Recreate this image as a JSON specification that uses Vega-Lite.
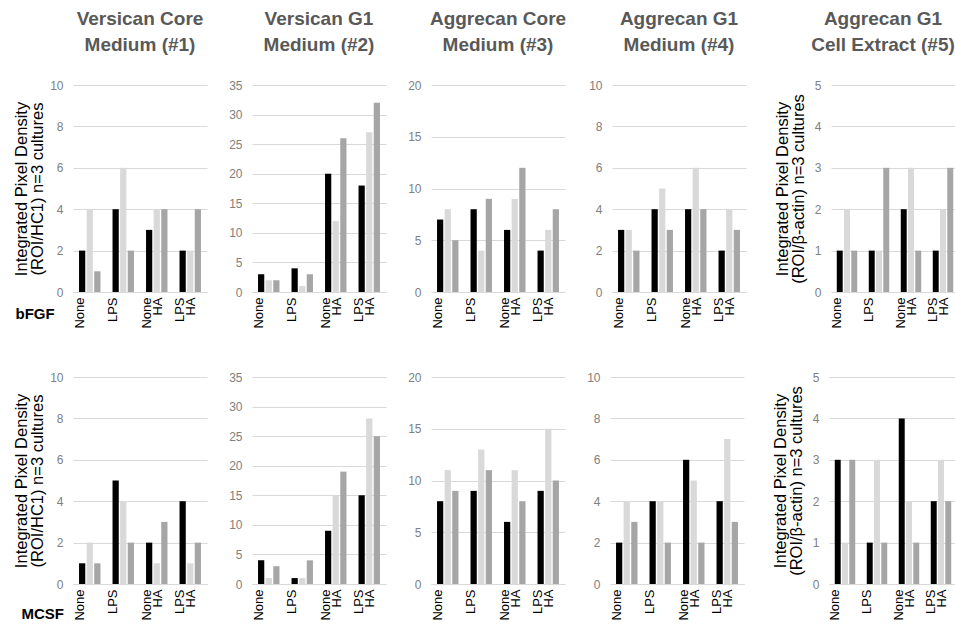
{
  "$schema": "https://vega.github.io/schema/vega-lite/v6.json",
  "padding": {"left": 13, "top": 10, "right": 0, "bottom": 0},
  "background": "#ffffff",
  "data": {"values": [
    {"k":"b1","g":"None","r":"1","v":2},{"k":"b1","g":"None","r":"2","v":4},{"k":"b1","g":"None","r":"3","v":1},
    {"k":"b1","g":"LPS","r":"1","v":4},{"k":"b1","g":"LPS","r":"2","v":6},{"k":"b1","g":"LPS","r":"3","v":2},
    {"k":"b1","g":"None HA","r":"1","v":3},{"k":"b1","g":"None HA","r":"2","v":4},{"k":"b1","g":"None HA","r":"3","v":4},
    {"k":"b1","g":"LPS HA","r":"1","v":2},{"k":"b1","g":"LPS HA","r":"2","v":2},{"k":"b1","g":"LPS HA","r":"3","v":4},
    {"k":"b2","g":"None","r":"1","v":3},{"k":"b2","g":"None","r":"2","v":2},{"k":"b2","g":"None","r":"3","v":2},
    {"k":"b2","g":"LPS","r":"1","v":4},{"k":"b2","g":"LPS","r":"2","v":1},{"k":"b2","g":"LPS","r":"3","v":3},
    {"k":"b2","g":"None HA","r":"1","v":20},{"k":"b2","g":"None HA","r":"2","v":12},{"k":"b2","g":"None HA","r":"3","v":26},
    {"k":"b2","g":"LPS HA","r":"1","v":18},{"k":"b2","g":"LPS HA","r":"2","v":27},{"k":"b2","g":"LPS HA","r":"3","v":32},
    {"k":"b3","g":"None","r":"1","v":7},{"k":"b3","g":"None","r":"2","v":8},{"k":"b3","g":"None","r":"3","v":5},
    {"k":"b3","g":"LPS","r":"1","v":8},{"k":"b3","g":"LPS","r":"2","v":4},{"k":"b3","g":"LPS","r":"3","v":9},
    {"k":"b3","g":"None HA","r":"1","v":6},{"k":"b3","g":"None HA","r":"2","v":9},{"k":"b3","g":"None HA","r":"3","v":12},
    {"k":"b3","g":"LPS HA","r":"1","v":4},{"k":"b3","g":"LPS HA","r":"2","v":6},{"k":"b3","g":"LPS HA","r":"3","v":8},
    {"k":"b4","g":"None","r":"1","v":3},{"k":"b4","g":"None","r":"2","v":3},{"k":"b4","g":"None","r":"3","v":2},
    {"k":"b4","g":"LPS","r":"1","v":4},{"k":"b4","g":"LPS","r":"2","v":5},{"k":"b4","g":"LPS","r":"3","v":3},
    {"k":"b4","g":"None HA","r":"1","v":4},{"k":"b4","g":"None HA","r":"2","v":6},{"k":"b4","g":"None HA","r":"3","v":4},
    {"k":"b4","g":"LPS HA","r":"1","v":2},{"k":"b4","g":"LPS HA","r":"2","v":4},{"k":"b4","g":"LPS HA","r":"3","v":3},
    {"k":"b5","g":"None","r":"1","v":1},{"k":"b5","g":"None","r":"2","v":2},{"k":"b5","g":"None","r":"3","v":1},
    {"k":"b5","g":"LPS","r":"1","v":1},{"k":"b5","g":"LPS","r":"2","v":1},{"k":"b5","g":"LPS","r":"3","v":3},
    {"k":"b5","g":"None HA","r":"1","v":2},{"k":"b5","g":"None HA","r":"2","v":3},{"k":"b5","g":"None HA","r":"3","v":1},
    {"k":"b5","g":"LPS HA","r":"1","v":1},{"k":"b5","g":"LPS HA","r":"2","v":2},{"k":"b5","g":"LPS HA","r":"3","v":3},
    {"k":"m1","g":"None","r":"1","v":1},{"k":"m1","g":"None","r":"2","v":2},{"k":"m1","g":"None","r":"3","v":1},
    {"k":"m1","g":"LPS","r":"1","v":5},{"k":"m1","g":"LPS","r":"2","v":4},{"k":"m1","g":"LPS","r":"3","v":2},
    {"k":"m1","g":"None HA","r":"1","v":2},{"k":"m1","g":"None HA","r":"2","v":1},{"k":"m1","g":"None HA","r":"3","v":3},
    {"k":"m1","g":"LPS HA","r":"1","v":4},{"k":"m1","g":"LPS HA","r":"2","v":1},{"k":"m1","g":"LPS HA","r":"3","v":2},
    {"k":"m2","g":"None","r":"1","v":4},{"k":"m2","g":"None","r":"2","v":1},{"k":"m2","g":"None","r":"3","v":3},
    {"k":"m2","g":"LPS","r":"1","v":1},{"k":"m2","g":"LPS","r":"2","v":1},{"k":"m2","g":"LPS","r":"3","v":4},
    {"k":"m2","g":"None HA","r":"1","v":9},{"k":"m2","g":"None HA","r":"2","v":15},{"k":"m2","g":"None HA","r":"3","v":19},
    {"k":"m2","g":"LPS HA","r":"1","v":15},{"k":"m2","g":"LPS HA","r":"2","v":28},{"k":"m2","g":"LPS HA","r":"3","v":25},
    {"k":"m3","g":"None","r":"1","v":8},{"k":"m3","g":"None","r":"2","v":11},{"k":"m3","g":"None","r":"3","v":9},
    {"k":"m3","g":"LPS","r":"1","v":9},{"k":"m3","g":"LPS","r":"2","v":13},{"k":"m3","g":"LPS","r":"3","v":11},
    {"k":"m3","g":"None HA","r":"1","v":6},{"k":"m3","g":"None HA","r":"2","v":11},{"k":"m3","g":"None HA","r":"3","v":8},
    {"k":"m3","g":"LPS HA","r":"1","v":9},{"k":"m3","g":"LPS HA","r":"2","v":15},{"k":"m3","g":"LPS HA","r":"3","v":10},
    {"k":"m4","g":"None","r":"1","v":2},{"k":"m4","g":"None","r":"2","v":4},{"k":"m4","g":"None","r":"3","v":3},
    {"k":"m4","g":"LPS","r":"1","v":4},{"k":"m4","g":"LPS","r":"2","v":4},{"k":"m4","g":"LPS","r":"3","v":2},
    {"k":"m4","g":"None HA","r":"1","v":6},{"k":"m4","g":"None HA","r":"2","v":5},{"k":"m4","g":"None HA","r":"3","v":2},
    {"k":"m4","g":"LPS HA","r":"1","v":4},{"k":"m4","g":"LPS HA","r":"2","v":7},{"k":"m4","g":"LPS HA","r":"3","v":3},
    {"k":"m5","g":"None","r":"1","v":3},{"k":"m5","g":"None","r":"2","v":1},{"k":"m5","g":"None","r":"3","v":3},
    {"k":"m5","g":"LPS","r":"1","v":1},{"k":"m5","g":"LPS","r":"2","v":3},{"k":"m5","g":"LPS","r":"3","v":1},
    {"k":"m5","g":"None HA","r":"1","v":4},{"k":"m5","g":"None HA","r":"2","v":2},{"k":"m5","g":"None HA","r":"3","v":1},
    {"k":"m5","g":"LPS HA","r":"1","v":2},{"k":"m5","g":"LPS HA","r":"2","v":3},{"k":"m5","g":"LPS HA","r":"3","v":2}
  ]},
  "spacing": 42,
  "resolve": {"scale": {"x": "independent", "y": "independent", "xOffset": "independent"}},
  "vconcat": [
    {
      "spacing": 28,
      "resolve": {"scale": {"x": "independent", "y": "independent", "xOffset": "independent"}},
      "hconcat": [
        {
          "spacing": 20,
          "resolve": {"scale": {"x": "independent", "y": "independent", "xOffset": "independent"}},
          "hconcat": [
            {
              "width": 134, "height": 207,
              "title": {"text": ["Versican Core", "Medium (#1)"]},
              "transform": [{"filter": "datum.k == 'b1'"}],
              "mark": "bar",
              "encoding": {
                "x": {"field": "g", "type": "nominal", "sort": ["None", "LPS", "None HA", "LPS HA"], "scale": {"paddingInner": 0.36, "paddingOuter": 0.18}, "axis": {"labelExpr": "split(datum.label, ' ')", "title": "bFGF", "titleX": -58, "titleY": 26, "titleAlign": "left", "titleBaseline": "alphabetic"}},
                "xOffset": {"field": "r", "type": "nominal", "scale": {"paddingInner": 0.18, "paddingOuter": 0}},
                "y": {"field": "v", "type": "quantitative", "scale": {"domain": [0, 10], "nice": false}, "axis": {"values": [0, 2, 4, 6, 8, 10], "title": ["Integrated Pixel Density", "(ROI/HC1) n=3 cultures"], "minExtent": 25, "maxExtent": 25}},
                "color": {"field": "r", "type": "nominal", "scale": {"domain": ["1", "2", "3"], "range": ["#000000", "#d9d9d9", "#a6a6a6"]}, "legend": null}
              }
            },
            {
              "width": 134, "height": 207,
              "title": {"text": ["Versican  G1", "Medium (#2)"]},
              "transform": [{"filter": "datum.k == 'b2'"}],
              "mark": "bar",
              "encoding": {
                "x": {"field": "g", "type": "nominal", "sort": ["None", "LPS", "None HA", "LPS HA"], "scale": {"paddingInner": 0.36, "paddingOuter": 0.18}, "axis": {"labelExpr": "split(datum.label, ' ')", "title": null}},
                "xOffset": {"field": "r", "type": "nominal", "scale": {"paddingInner": 0.18, "paddingOuter": 0}},
                "y": {"field": "v", "type": "quantitative", "scale": {"domain": [0, 35], "nice": false}, "axis": {"values": [0, 5, 10, 15, 20, 25, 30, 35], "title": null, "minExtent": 25, "maxExtent": 25}},
                "color": {"field": "r", "type": "nominal", "scale": {"domain": ["1", "2", "3"], "range": ["#000000", "#d9d9d9", "#a6a6a6"]}, "legend": null}
              }
            },
            {
              "width": 134, "height": 207,
              "title": {"text": ["Aggrecan Core", "Medium (#3)"]},
              "transform": [{"filter": "datum.k == 'b3'"}],
              "mark": "bar",
              "encoding": {
                "x": {"field": "g", "type": "nominal", "sort": ["None", "LPS", "None HA", "LPS HA"], "scale": {"paddingInner": 0.36, "paddingOuter": 0.18}, "axis": {"labelExpr": "split(datum.label, ' ')", "title": null}},
                "xOffset": {"field": "r", "type": "nominal", "scale": {"paddingInner": 0.18, "paddingOuter": 0}},
                "y": {"field": "v", "type": "quantitative", "scale": {"domain": [0, 20], "nice": false}, "axis": {"values": [0, 5, 10, 15, 20], "title": null, "minExtent": 25, "maxExtent": 25}},
                "color": {"field": "r", "type": "nominal", "scale": {"domain": ["1", "2", "3"], "range": ["#000000", "#d9d9d9", "#a6a6a6"]}, "legend": null}
              }
            },
            {
              "width": 134, "height": 207,
              "title": {"text": ["Aggrecan G1", "Medium (#4)"]},
              "transform": [{"filter": "datum.k == 'b4'"}],
              "mark": "bar",
              "encoding": {
                "x": {"field": "g", "type": "nominal", "sort": ["None", "LPS", "None HA", "LPS HA"], "scale": {"paddingInner": 0.36, "paddingOuter": 0.18}, "axis": {"labelExpr": "split(datum.label, ' ')", "title": null}},
                "xOffset": {"field": "r", "type": "nominal", "scale": {"paddingInner": 0.18, "paddingOuter": 0}},
                "y": {"field": "v", "type": "quantitative", "scale": {"domain": [0, 10], "nice": false}, "axis": {"values": [0, 2, 4, 6, 8, 10], "title": null, "minExtent": 25, "maxExtent": 25}},
                "color": {"field": "r", "type": "nominal", "scale": {"domain": ["1", "2", "3"], "range": ["#000000", "#d9d9d9", "#a6a6a6"]}, "legend": null}
              }
            }
          ]
        },
        {
          "width": 128, "height": 207,
          "title": {"text": ["Aggrecan G1", "Cell Extract (#5)"], "dx": -12},
          "transform": [{"filter": "datum.k == 'b5'"}],
          "mark": "bar",
          "encoding": {
            "x": {"field": "g", "type": "nominal", "sort": ["None", "LPS", "None HA", "LPS HA"], "scale": {"paddingInner": 0.36, "paddingOuter": 0.18}, "axis": {"labelExpr": "split(datum.label, ' ')", "title": null}},
            "xOffset": {"field": "r", "type": "nominal", "scale": {"paddingInner": 0.18, "paddingOuter": 0}},
            "y": {"field": "v", "type": "quantitative", "scale": {"domain": [0, 5], "nice": false}, "axis": {"values": [0, 1, 2, 3, 4, 5], "title": ["Integrated Pixel Density", "(ROI/β-actin) n=3 cultures"], "minExtent": 17, "maxExtent": 17, "titlePadding": 8}},
            "color": {"field": "r", "type": "nominal", "scale": {"domain": ["1", "2", "3"], "range": ["#000000", "#d9d9d9", "#a6a6a6"]}, "legend": null}
          }
        }
      ]
    },
    {
      "spacing": 28,
      "resolve": {"scale": {"x": "independent", "y": "independent", "xOffset": "independent"}},
      "hconcat": [
        {
          "spacing": 20,
          "resolve": {"scale": {"x": "independent", "y": "independent", "xOffset": "independent"}},
          "hconcat": [
            {
              "width": 134, "height": 207,
              "transform": [{"filter": "datum.k == 'm1'"}],
              "mark": "bar",
              "encoding": {
                "x": {"field": "g", "type": "nominal", "sort": ["None", "LPS", "None HA", "LPS HA"], "scale": {"paddingInner": 0.36, "paddingOuter": 0.18}, "axis": {"labelExpr": "split(datum.label, ' ')", "title": "MCSF", "titleX": -52, "titleY": 34, "titleAlign": "left", "titleBaseline": "alphabetic"}},
                "xOffset": {"field": "r", "type": "nominal", "scale": {"paddingInner": 0.18, "paddingOuter": 0}},
                "y": {"field": "v", "type": "quantitative", "scale": {"domain": [0, 10], "nice": false}, "axis": {"values": [0, 2, 4, 6, 8, 10], "title": ["Integrated Pixel Density", "(ROI/HC1) n=3 cultures"], "minExtent": 25, "maxExtent": 25}},
                "color": {"field": "r", "type": "nominal", "scale": {"domain": ["1", "2", "3"], "range": ["#000000", "#d9d9d9", "#a6a6a6"]}, "legend": null}
              }
            },
            {
              "width": 134, "height": 207,
              "transform": [{"filter": "datum.k == 'm2'"}],
              "mark": "bar",
              "encoding": {
                "x": {"field": "g", "type": "nominal", "sort": ["None", "LPS", "None HA", "LPS HA"], "scale": {"paddingInner": 0.36, "paddingOuter": 0.18}, "axis": {"labelExpr": "split(datum.label, ' ')", "title": null}},
                "xOffset": {"field": "r", "type": "nominal", "scale": {"paddingInner": 0.18, "paddingOuter": 0}},
                "y": {"field": "v", "type": "quantitative", "scale": {"domain": [0, 35], "nice": false}, "axis": {"values": [0, 5, 10, 15, 20, 25, 30, 35], "title": null, "minExtent": 25, "maxExtent": 25}},
                "color": {"field": "r", "type": "nominal", "scale": {"domain": ["1", "2", "3"], "range": ["#000000", "#d9d9d9", "#a6a6a6"]}, "legend": null}
              }
            },
            {
              "width": 134, "height": 207,
              "transform": [{"filter": "datum.k == 'm3'"}],
              "mark": "bar",
              "encoding": {
                "x": {"field": "g", "type": "nominal", "sort": ["None", "LPS", "None HA", "LPS HA"], "scale": {"paddingInner": 0.36, "paddingOuter": 0.18}, "axis": {"labelExpr": "split(datum.label, ' ')", "title": null}},
                "xOffset": {"field": "r", "type": "nominal", "scale": {"paddingInner": 0.18, "paddingOuter": 0}},
                "y": {"field": "v", "type": "quantitative", "scale": {"domain": [0, 20], "nice": false}, "axis": {"values": [0, 5, 10, 15, 20], "title": null, "minExtent": 25, "maxExtent": 25}},
                "color": {"field": "r", "type": "nominal", "scale": {"domain": ["1", "2", "3"], "range": ["#000000", "#d9d9d9", "#a6a6a6"]}, "legend": null}
              }
            },
            {
              "width": 134, "height": 207,
              "transform": [{"filter": "datum.k == 'm4'"}],
              "mark": "bar",
              "encoding": {
                "x": {"field": "g", "type": "nominal", "sort": ["None", "LPS", "None HA", "LPS HA"], "scale": {"paddingInner": 0.36, "paddingOuter": 0.18}, "axis": {"labelExpr": "split(datum.label, ' ')", "title": null}},
                "xOffset": {"field": "r", "type": "nominal", "scale": {"paddingInner": 0.18, "paddingOuter": 0}},
                "y": {"field": "v", "type": "quantitative", "scale": {"domain": [0, 10], "nice": false}, "axis": {"values": [0, 2, 4, 6, 8, 10], "title": null, "minExtent": 25, "maxExtent": 25}},
                "color": {"field": "r", "type": "nominal", "scale": {"domain": ["1", "2", "3"], "range": ["#000000", "#d9d9d9", "#a6a6a6"]}, "legend": null}
              }
            }
          ]
        },
        {
          "width": 128, "height": 207,
          "transform": [{"filter": "datum.k == 'm5'"}],
          "mark": "bar",
          "encoding": {
            "x": {"field": "g", "type": "nominal", "sort": ["None", "LPS", "None HA", "LPS HA"], "scale": {"paddingInner": 0.36, "paddingOuter": 0.18}, "axis": {"labelExpr": "split(datum.label, ' ')", "title": null}},
            "xOffset": {"field": "r", "type": "nominal", "scale": {"paddingInner": 0.18, "paddingOuter": 0}},
            "y": {"field": "v", "type": "quantitative", "scale": {"domain": [0, 5], "nice": false}, "axis": {"values": [0, 1, 2, 3, 4, 5], "title": ["Integrated Pixel Density", "(ROI/β-actin) n=3 cultures"], "minExtent": 17, "maxExtent": 17, "titlePadding": 8}},
            "color": {"field": "r", "type": "nominal", "scale": {"domain": ["1", "2", "3"], "range": ["#000000", "#d9d9d9", "#a6a6a6"]}, "legend": null}
          }
        }
      ]
    }
  ],
  "config": {
    "view": {"stroke": null},
    "font": "Liberation Sans",
    "title": {"fontSize": 19, "fontWeight": "bold", "color": "#595959", "anchor": "middle", "frame": "group", "lineHeight": 26, "offset": 24},
    "axisX": {"labelAngle": -90, "labelAlign": "right", "labelBaseline": "line-bottom", "labelFontSize": 13, "labelColor": "#000000", "labelPadding": 5, "ticks": false, "tickSize": 0, "domainColor": "#d9d9d9", "grid": false, "labelLineHeight": 11, "labelOffset": -4, "titleFontSize": 15, "titleFontWeight": "bold", "titleColor": "#000000"},
    "axisY": {"labelFontSize": 12, "labelColor": "#808080", "ticks": false, "tickSize": 0, "domain": false, "gridColor": "#d9d9d9", "labelPadding": 10, "titleFontSize": 16.5, "titleColor": "#000000", "titleFontWeight": "normal", "titleLineHeight": 16, "titlePadding": 3}
  }
}
